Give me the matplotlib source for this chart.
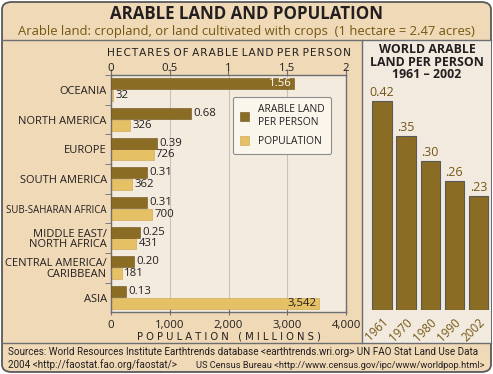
import numpy as np
import matplotlib
matplotlib.use("Agg")
import matplotlib.pyplot as plt
from matplotlib.patches import FancyBboxPatch, Rectangle
from matplotlib.lines import Line2D

plt.rcParams['font.family'] = ['Open Sans', 'DejaVu Sans']

# data
regions = ["OCEANIA", "NORTH AMERICA", "EUROPE", "SOUTH AMERICA",
           "SUB-SAHARAN AFRICA", "MIDDLE EAST/\nNORTH AFRICA",
           "CENTRAL AMERICA/\nCARIBBEAN", "ASIA"]
arable = [1.56, 0.68, 0.39, 0.31, 0.31, 0.25, 0.20, 0.13]
population = [32, 326, 726, 362, 700, 431, 181, 3542]
years = ["1961", "1970", "1980", "1990", "2002"]
world_arable = [0.42, 0.35, 0.30, 0.26, 0.23]
world_labels = ["0.42", ".35", ".30", ".26", ".23"]

# colours
dark = "#8b6c24"
light = "#e6c065"
tan = "#efd9b7"
pale = "#f4ebdf"
ink = "#231f20"
brown = "#735712"
axcol = "#6d6e71"

W, H = 493, 374
fig = plt.figure(figsize=(W / 100, H / 100), dpi=100)
fig.patch.set_facecolor("white")

def rect(x0, y0, x1, y1):
    return [x0 / W, 1 - y1 / H, (x1 - x0) / W, (y1 - y0) / H]

def fx(x):
    return x / W

def fy(y):
    return 1 - y / H

# background panels
fig.patches.append(FancyBboxPatch((fx(2), fy(372)), fx(489), 370 / H,
                                  boxstyle="round,pad=0,rounding_size=0.02",
                                  transform=fig.transFigure, facecolor=tan,
                                  edgecolor="#58595b", lw=1.3, zorder=-3))
fig.patches.append(Rectangle((fx(362), fy(343)), fx(129), 303 / H,
                             transform=fig.transFigure, facecolor="#f3eadf",
                             edgecolor="none", zorder=-2))
for ln in [Line2D([fx(2), fx(491)], [fy(40), fy(40)]),
           Line2D([fx(2), fx(491)], [fy(343), fy(343)]),
           Line2D([fx(362), fx(362)], [fy(40), fy(343)])]:
    ln.set_color(axcol); ln.set_linewidth(1.0); ln.set_transform(fig.transFigure)
    ln.set_zorder(-1)
    fig.lines.append(ln)

# titles
fig.text(0.5, fy(14), "ARABLE LAND AND POPULATION", ha="center", va="center",
         fontsize=12.2, fontweight="bold", color=ink)
fig.text(0.5, fy(31), "Arable land: cropland, or land cultivated with crops  (1 hectare = 2.47 acres)",
         ha="center", va="center", fontsize=9.4, color=brown)

# main chart
ax = fig.add_axes(rect(111, 75, 346, 312))
ax.set_facecolor(pale)
y = np.arange(len(regions))
ax.barh(y + 0.19, population, height=0.37, color=light, edgecolor="#c9a04a",
        lw=0.4, label="POPULATION", zorder=2)
ax.set_xlim(0, 4000)
ax.set_ylim(len(regions) - 1 + 0.486, -0.452)
ax.set_xticks([0, 1000, 2000, 3000, 4000])
ax.set_xticklabels(["0", "1,000", "2,000", "3,000", "4,000"])
ax.set_yticks(y)
ax.set_yticklabels(regions, fontsize=8.0, color=ink, linespacing=0.95)
ax.get_yticklabels()[4].set_fontsize(6.9)
ax.set_yticks(np.arange(len(regions)) - 0.5, minor=True)
ax.tick_params(axis="y", which="major", length=0, pad=3)
ax.tick_params(axis="y", which="minor", length=4, color=axcol)
ax.tick_params(axis="x", direction="inout", length=5, color=axcol,
               labelsize=8.2, labelcolor=ink, pad=3)
ax.grid(axis="x", color="#c9c3bc", lw=0.8, zorder=0)
ax.set_axisbelow(True)
for s in ax.spines.values():
    s.set_color(axcol)
    s.set_linewidth(1.0)
ax.set_xlabel("P O P U L A T I O N   ( M I L L I O N S )", fontsize=7.2,
              color=ink, labelpad=0.5, family=['DejaVu Sans'])

for i, v in enumerate(population):
    if v > 3000:
        ax.text(v - 40, i + 0.19, f"{v:,}", ha="right", va="center",
                fontsize=8.2, color=ink, zorder=3)
    else:
        ax.text(v + 40, i + 0.19, f"{v:,}", ha="left", va="center",
                fontsize=8.2, color=ink, zorder=3)

ax2 = ax.twiny()
ax2.barh(y - 0.2, arable, height=0.37, color=dark, edgecolor="#6b5218",
         lw=0.4, label="ARABLE LAND\nPER PERSON", zorder=2)
ax2.set_xlim(0, 2)
ax2.set_xticks([0, 0.5, 1, 1.5, 2])
ax2.set_xticklabels(["0", "0.5", "1", "1.5", "2"])
ax2.tick_params(axis="x", length=4, color=axcol, labelsize=8.2,
                labelcolor=ink, pad=-3.5)
for s in ax2.spines.values():
    s.set_visible(False)
top_label = " ".join("\u200a".join(w) for w in "HECTARES OF ARABLE LAND PER PERSON".split(" "))
ax2.set_xlabel(top_label, fontsize=7.6, color=ink, labelpad=5,
               family=['DejaVu Sans'])

for i, v in enumerate(arable):
    if v > 1:
        ax2.text(v - 0.02, i - 0.2, f"{v:.2f}", ha="right", va="center",
                 fontsize=8.2, color="white", zorder=3)
    else:
        ax2.text(v + 0.02, i - 0.2, f"{v:.2f}", ha="left", va="center",
                 fontsize=8.2, color=ink, zorder=3)

h1, l1 = ax2.get_legend_handles_labels()
h2, l2 = ax.get_legend_handles_labels()
leg = ax2.legend(h1 + h2, l1 + l2, loc="upper left",
                 bbox_to_anchor=((233 - 111) / 235, 1 - (97 - 75) / 237),
                 borderaxespad=0,
                 fontsize=7.4, frameon=True, fancybox=True,
                 facecolor="#fbf6ec", edgecolor="#8c8c8c", framealpha=1,
                 handlelength=0.9, handleheight=0.9, labelspacing=0.8,
                 borderpad=0.7, handletextpad=0.8, labelcolor=ink)
leg.get_frame().set_linewidth(0.8)

# world panel
fig.text(fx(427), fy(62), "WORLD ARABLE\nLAND PER PERSON\n1961 \u2013 2002",
         ha="center", va="center", fontsize=8.9, fontweight="bold",
         color=ink, linespacing=0.92)
axw = fig.add_axes(rect(364, 60, 493, 310))
axw.patch.set_alpha(0)
xw = np.arange(len(years))
axw.bar(xw, world_arable, width=0.8, color=dark, edgecolor="#58595b", lw=0.8)
axw.set_xlim(-0.747, 4.6)
axw.set_ylim(0, 250 / 497.6)
for s in axw.spines.values():
    s.set_visible(False)
axw.set_yticks([])
axw.set_xticks(xw)
axw.set_xticklabels(years, rotation=45, ha="right", va="top",
                    rotation_mode="anchor", fontsize=8.4, color=brown)
axw.tick_params(axis="x", length=0, pad=4)
for i, v in enumerate(world_arable):
    axw.text(i, v + 0.004, world_labels[i], ha="center", va="bottom",
             fontsize=9.0, color=brown)

# sources
src_font = ['Roboto', 'DejaVu Sans']
fig.text(fx(8), fy(352), "Sources: World Resources Institute Earthtrends database <earthtrends.wri.org> UN FAO Stat Land Use Data",
         ha="left", va="center", fontsize=7.1, color=ink, family=src_font)
fig.text(fx(8), fy(365), "2004 <http://faostat.fao.org/faostat/>",
         ha="left", va="center", fontsize=7.1, color=ink, family=src_font)
fig.text(fx(484), fy(365), "US Census Bureau <http://www.census.gov/ipc/www/worldpop.html>",
         ha="right", va="center", fontsize=6.7, color=ink, family=src_font)

fig.savefig("out.png", dpi=100, facecolor=fig.get_facecolor())
